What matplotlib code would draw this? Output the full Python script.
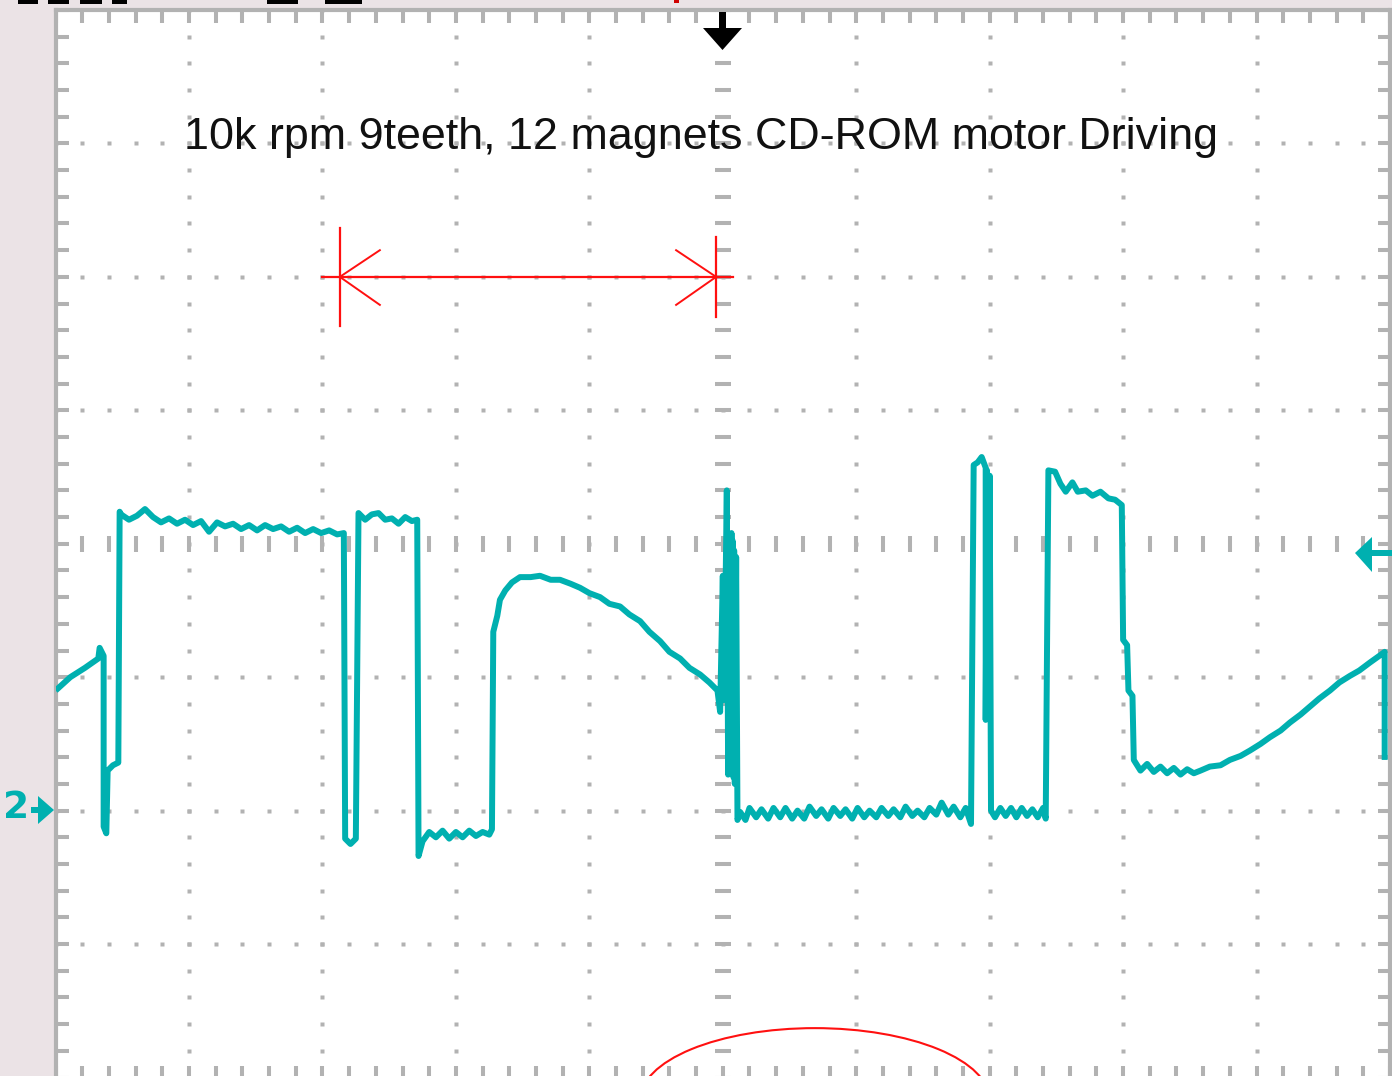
import matplotlib
matplotlib.use("Agg")
import matplotlib.pyplot as plt
import numpy as np
from matplotlib.patches import Ellipse, Polygon, Rectangle

# ---------------- data (screen divisions: x 0..10, y -4..4) ----------------
title = "10k rpm 9teeth, 12 magnets CD-ROM motor Driving"

trace_x = [
    0.00, 0.11, 0.22, 0.32, 0.33, 0.36, 0.36, 0.38, 0.39, 0.43, 0.47, 0.48,
    # high level 1
    0.49, 0.55, 0.61, 0.67, 0.73, 0.79, 0.85, 0.91, 0.97, 1.03, 1.09, 1.15,
    1.21, 1.27, 1.33, 1.39, 1.45, 1.51, 1.57, 1.63, 1.69, 1.75, 1.81, 1.87,
    1.93, 1.99, 2.05, 2.11, 2.16,
    # notch
    2.17, 2.21, 2.25, 2.27,
    # high level 2
    2.32, 2.37, 2.42, 2.47, 2.52, 2.57, 2.62, 2.67, 2.71, 2.72, 2.72,
    # low level 1
    2.75, 2.80, 2.85, 2.90, 2.95, 3.00, 3.05, 3.10, 3.15, 3.20, 3.25, 3.27,
    # rising hump and decay
    3.28, 3.31, 3.33, 3.37, 3.42, 3.48, 3.56, 3.63, 3.71, 3.78, 3.86, 3.93,
    4.00, 4.08, 4.15, 4.23, 4.30, 4.38, 4.45, 4.53, 4.60, 4.68, 4.75, 4.83,
    4.90, 4.96,
    # commutation spikes
    4.98, 5.00, 5.01, 5.03, 5.04, 5.05, 5.06, 5.065, 5.07, 5.075, 5.08, 5.085,
    5.09, 5.10, 5.11, 5.13,
    # low level 2
    5.17, 5.20, 5.25, 5.29, 5.34, 5.38, 5.43, 5.47, 5.52, 5.56, 5.61, 5.65,
    5.70, 5.74, 5.79, 5.83, 5.88, 5.92, 5.97, 6.01, 6.06, 6.10, 6.15, 6.19,
    6.24, 6.28, 6.33, 6.37, 6.42, 6.46, 6.51, 6.55, 6.60, 6.64, 6.69, 6.73,
    6.78, 6.82, 6.86,
    # narrow pulse
    6.88, 6.91, 6.94, 6.97, 6.97, 6.98, 6.99, 7.00, 7.01,
    # low level 3
    7.04, 7.08, 7.12, 7.16, 7.20, 7.24, 7.28, 7.32, 7.36, 7.40, 7.42,
    # high level 3
    7.44, 7.49, 7.53, 7.57, 7.62, 7.66, 7.72, 7.77, 7.83, 7.89, 7.94, 7.99,
    # falling steps
    8.00, 8.03, 8.04, 8.07, 8.08,
    # valley and rise
    8.13, 8.18, 8.23, 8.28, 8.33, 8.38, 8.43, 8.48, 8.53, 8.58, 8.65, 8.73,
    8.80, 8.88, 8.95, 9.03, 9.10, 9.18, 9.25, 9.33, 9.40, 9.47, 9.55, 9.62,
    9.70, 9.77, 9.85, 9.92, 9.96, 9.96,
]

trace_y = [
    -1.10, -1.00, -0.93, -0.86, -0.78, -0.84, -2.12, -2.17, -1.70, -1.66, -1.64, 0.24,
    # high level 1
    0.22, 0.18, 0.21, 0.26, 0.20, 0.16, 0.19, 0.15, 0.18, 0.14, 0.17, 0.09,
    0.16, 0.13, 0.15, 0.11, 0.14, 0.10, 0.14, 0.11, 0.13, 0.09, 0.12, 0.08,
    0.11, 0.08, 0.10, 0.07, 0.08,
    # notch
    -2.21, -2.25, -2.21, 0.23,
    # high level 2
    0.18, 0.22, 0.23, 0.18, 0.19, 0.15, 0.20, 0.17, 0.18, -2.15, -2.34,
    # low level 1
    -2.23, -2.16, -2.20, -2.15, -2.21, -2.16, -2.20, -2.15, -2.19, -2.16, -2.18, -2.14,
    # rising hump and decay
    -0.66, -0.54, -0.42, -0.35, -0.29, -0.25, -0.25, -0.24, -0.27, -0.27, -0.30, -0.33,
    -0.37, -0.40, -0.45, -0.47, -0.53, -0.58, -0.66, -0.73, -0.81, -0.86, -0.93, -0.98,
    -1.04, -1.10,
    # commutation spikes
    -1.26, -0.24, -1.17, 0.40, -1.73, 0.02, -1.60, 0.08, -1.70, 0.02, -1.75, -0.05,
    -1.80, -0.10, -2.07, -2.01,
    # low level 2
    -2.07, -1.98, -2.05, -1.99, -2.06, -1.98, -2.05, -1.98, -2.06, -2.00, -2.06, -1.97,
    -2.04, -1.99, -2.06, -1.98, -2.04, -1.99, -2.06, -1.98, -2.05, -2.00, -2.05, -1.98,
    -2.04, -1.99, -2.05, -1.97, -2.04, -2.00, -2.05, -1.98, -2.03, -1.94, -2.03, -1.97,
    -2.05, -1.98, -2.10,
    # narrow pulse
    0.59, 0.61, 0.65, 0.57, -1.32, 0.55, -1.20, 0.51, -2.00,
    # low level 3
    -2.05, -1.98, -2.04, -1.98, -2.05, -1.98, -2.04, -1.99, -2.05, -1.98, -2.06,
    # high level 3
    0.55, 0.54, 0.45, 0.39, 0.46, 0.39, 0.40, 0.36, 0.39, 0.34, 0.33, 0.29,
    # falling steps
    -0.72, -0.76, -1.10, -1.14, -1.62,
    # valley and rise
    -1.70, -1.65, -1.71, -1.67, -1.72, -1.68, -1.73, -1.69, -1.72, -1.70, -1.67, -1.66,
    -1.62, -1.59, -1.55, -1.50, -1.45, -1.40, -1.34, -1.28, -1.22, -1.16, -1.10, -1.04,
    -0.99, -0.95, -0.89, -0.84, -0.81, -1.62,
]

# cursor (red) marks
cursor_x = [2.13, 4.95]
cursor_y = 2.00
cursor_span = [2.00, 5.08]
cursor_half_heights = [0.37, 0.30]

# ellipse mark (partly below the screen)
ellipse_center = (5.69, -4.17)
ellipse_size = (2.62, 1.08)

# ---------------- figure ----------------
W, H = 1392, 1076
fig = plt.figure(figsize=(W / 100, H / 100), dpi=100)
fig.patch.set_facecolor("#ebe3e6")

L, R, T, B = 55.6, 1390.0, 10.0, 1077.5
ax = fig.add_axes([L / W, 1 - B / H, (R - L) / W, (B - T) / H])
ax.set_xlim(0, 10)
ax.set_ylim(-4, 4)
ax.set_facecolor("white")

gc = "#b2b2b2"
for s in ax.spines.values():
    s.set_color(gc)
    s.set_linewidth(3.0)
ax.set_xticks(np.arange(0, 10.001, 0.2))
ax.set_yticks(np.arange(-4, 4.001, 0.2))
ax.tick_params(direction="in", length=9, width=2.9, color=gc,
               top=True, right=True, labelbottom=False, labelleft=False)

minor_y = np.arange(-4, 4.001, 0.2)
minor_x = np.arange(0, 10.001, 0.2)
for xv in [1, 2, 3, 4, 6, 7, 8, 9]:
    ax.plot(np.full_like(minor_y, xv), minor_y, ls="none", marker="s", ms=2.9,
            mfc=gc, mec="none", zorder=1)
for yv in [-3, -2, -1, 1, 2, 3]:
    ax.plot(minor_x, np.full_like(minor_x, yv), ls="none", marker="s", ms=2.9,
            mfc=gc, mec="none", zorder=1)
ax.plot(np.full_like(minor_y, 5.0), minor_y, ls="none", marker="_", ms=11.5,
        mew=2.9, color=gc, zorder=1)
ax.plot(minor_x, np.zeros_like(minor_x), ls="none", marker="|", ms=11,
        mew=2.9, color=gc, zorder=1)

# trace
ax.plot(trace_x, trace_y, color="#00b0b0", lw=4.3, solid_joinstyle="round",
        solid_capstyle="butt", zorder=3)

# red cursors
red = "#ff1010"
ax.plot(cursor_span, [cursor_y, cursor_y], color=red, lw=1.6, zorder=4)
for cx, hh in zip(cursor_x, cursor_half_heights):
    ax.plot([cx, cx], [cursor_y - hh, cursor_y + hh], color=red, lw=1.6, zorder=4)
for cx, d in zip(cursor_x, [1, -1]):
    ax.plot([cx + d * 0.30, cx, cx + d * 0.30],
            [cursor_y + 0.20, cursor_y, cursor_y - 0.21], color=red, lw=1.4, zorder=4)

ax.add_patch(Ellipse(ellipse_center, ellipse_size[0], ellipse_size[1],
                     fill=False, ec=red, lw=1.5, zorder=4))

# title text
ax.text(4.84, 2.955, title, ha="center", va="baseline", fontsize=32.3,
        family="Liberation Sans", color="#111111", zorder=5)

# ---------------- overlay decorations (pixel coords) ----------------
ov = fig.add_axes([0, 0, 1, 1], zorder=10)
ov.set_xlim(0, W)
ov.set_ylim(H, 0)
ov.axis("off")
ov.patch.set_alpha(0)

# trigger position marker (black arrow)
ov.add_patch(Polygon([(719, 12), (726, 12), (726, 28), (742, 28), (722.5, 50),
                      (703, 28), (719, 28)], closed=True, fc="black", ec="none"))
# trigger level marker (cyan, right)
cy = "#00b0b0"
ov.add_patch(Polygon([(1355, 553), (1372, 537), (1372, 550), (1392, 550),
                      (1392, 556), (1372, 556), (1372, 572)], closed=True,
                     fc=cy, ec="none"))
# channel 2 ground marker
ov.add_patch(Polygon([(31, 807), (38, 807), (38, 796), (54, 810), (38, 824),
                      (38, 813), (31, 813)], closed=True, fc=cy, ec="none"))
ov.text(16, 808, "2", ha="center", va="center", fontsize=27, color=cy,
        family="DejaVu Sans", fontweight="bold")

# cut-off header fragments
for x0, x1 in [(18, 38), (48, 69), (80, 102), (112, 127), (267, 298), (325, 362)]:
    ov.add_patch(Rectangle((x0, 0), x1 - x0, 3.5, fc="black", ec="none"))
ov.add_patch(Rectangle((674, 0), 5, 3, fc="#d00000", ec="none"))

fig.savefig("out.png", dpi=100)
